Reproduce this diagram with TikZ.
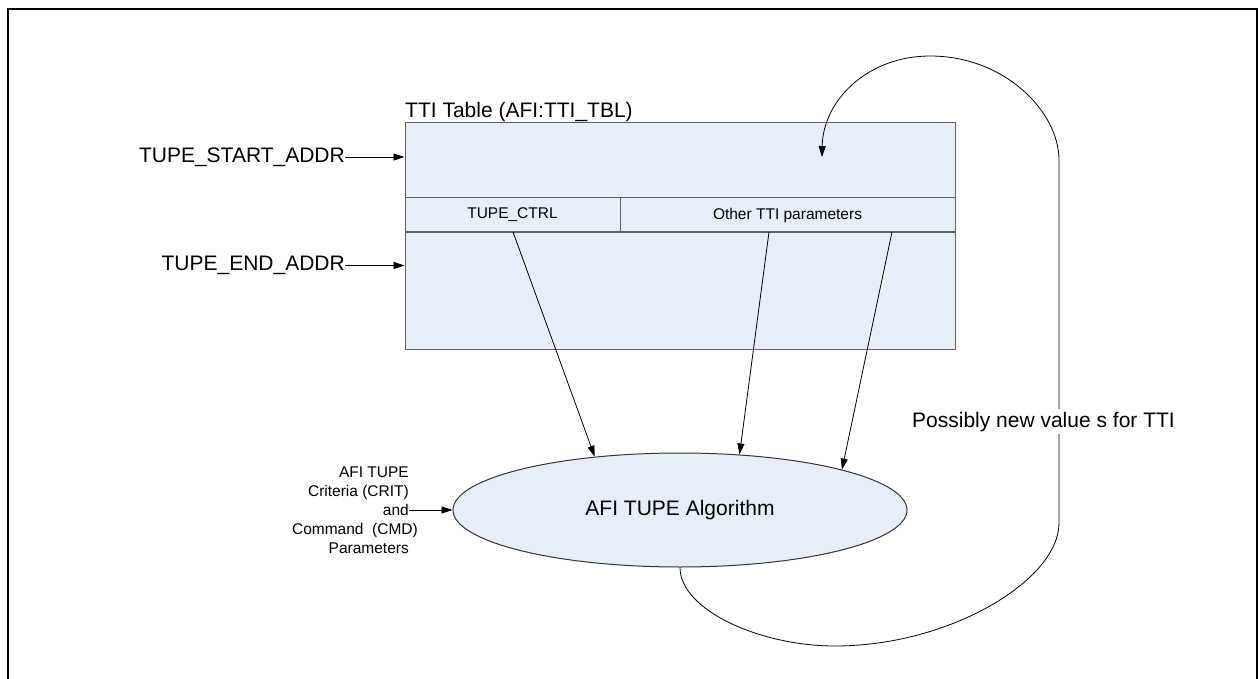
\documentclass[tikz,border=0pt]{standalone}
\usepackage{fontspec}
\setmainfont{Liberation Sans}
\usetikzlibrary{shapes.geometric,arrows.meta}
\definecolor{panelfill}{RGB}{232,238,247}
\definecolor{panelline}{RGB}{96,96,96}
\begin{document}
\begin{tikzpicture}[x=1pt,y=-1pt,
  arr/.style={-{Triangle[length=11pt,width=7pt]}, line width=0.8pt, black},
  big/.style={font=\fontsize{21}{25}\selectfont, inner sep=0pt},
  small/.style={font=\fontsize{15.5}{19}\selectfont, inner sep=0pt},
  panel/.style={draw=panelline, fill=panelfill, line width=1pt, inner sep=0pt},
]
\useasboundingbox (0,0) rectangle (1258,679);
% outer frame (open at the bottom)
\draw[line width=2pt] (8,679) -- (8,9) -- (1257,9) -- (1257,679);

% TTI table with its parameter row
\node[panel, minimum width=550pt, minimum height=226pt] (tbl) at (680,236) {};
\node[panel, minimum width=215pt, minimum height=34pt, small] (ctrl) at (512.5,215) {TUPE\_CTRL};
\node[panel, minimum width=335pt, minimum height=34pt, small] (other) at (787.5,215) {Other TTI parameters};
\node[big, anchor=base west] (title) at (405,118) {TTI Table (AFI:TTI\_TBL)};

% address pointers
\node[big, anchor=east] (startaddr) at (345,157) {TUPE\_START\_ADDR};
\node[big, anchor=east] (endaddr) at (345,265.5) {TUPE\_END\_ADDR};
\draw[arr] (startaddr.east) -- (startaddr.east -| tbl.west);
\draw[arr] (endaddr.east) -- (endaddr.east -| tbl.west);

% algorithm
\node[ellipse, draw=black!80, fill=panelfill, line width=1pt,
      minimum width=454pt, minimum height=114pt, big] (alg) at (680,510) {AFI TUPE Algorithm};

% inputs read from the parameter row
\coordinate (s1) at (513,232);
\coordinate (s2) at (769,232);
\coordinate (s3) at (892,232);
\draw[arr] (s1) -- (alg.148.6);
\draw[arr] (s2) -- (alg.43.5);
\draw[arr] (s3) -- (alg.14.9);

% criteria and command parameters
\node[small, align=right, anchor=east] (inp) at (409,510)
  {AFI TUPE\\Criteria (CRIT)\\and\\Command\ \ (CMD)\kern-9pt\\Parameters};
\draw[arr] (inp.east) -- (alg.west);

% feedback loop back into the table
\coordinate (tip) at (822,157);
\draw[arr] (alg.south) .. controls (680,610) and (760,646) .. (835,646)
  .. controls (950,646) and (1059,580) .. (1059,523)
  -- (1059,160) .. controls (1059,112) and (1005,56) .. (930,56)
  .. controls (868,56) and (823,100) .. (tip);
\node[big, fill=white, inner sep=3pt, anchor=base west] (lbl) at (909,427) {Possibly new value s for TTI};
\end{tikzpicture}
\end{document}
